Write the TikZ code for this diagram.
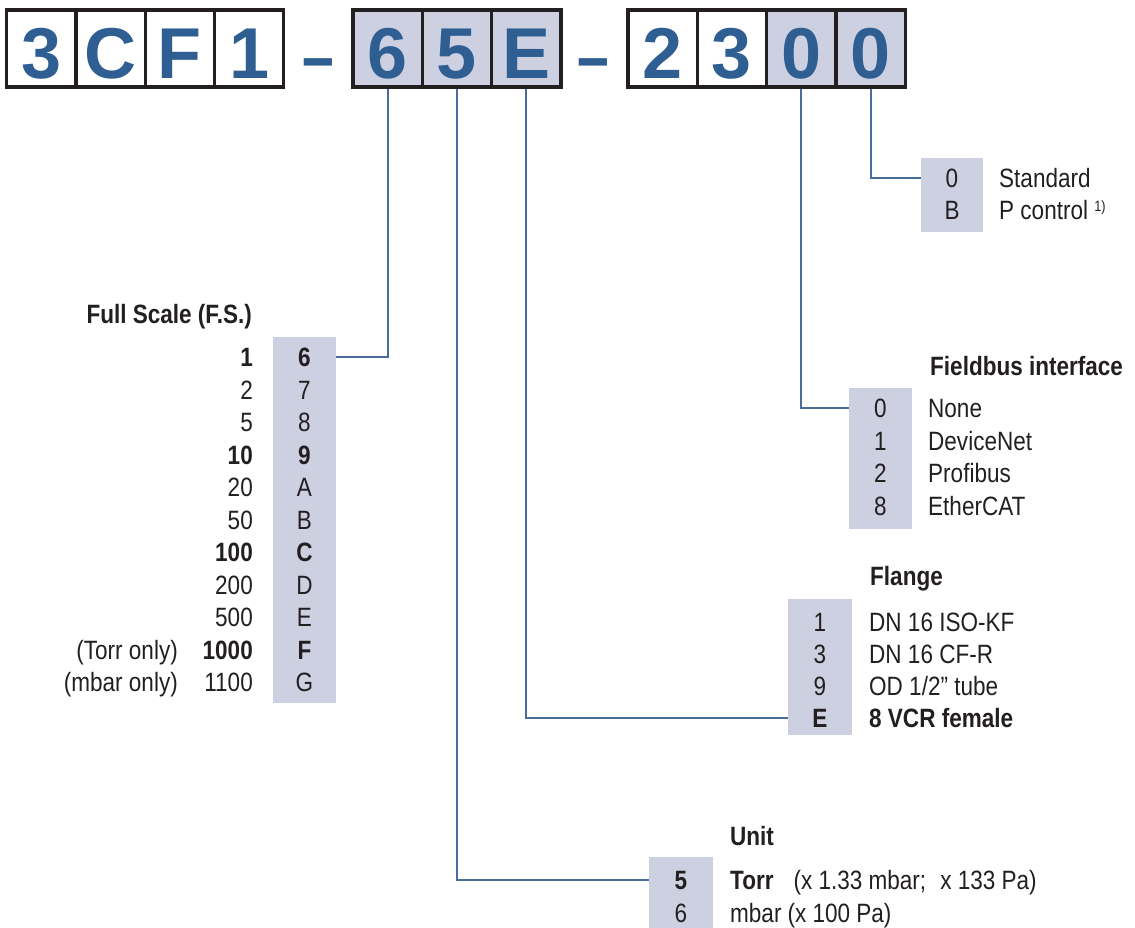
\documentclass[tikz,border=0pt]{standalone}
\usepackage{fontspec}
\setmainfont{Liberation Sans}[FakeStretch=0.85]
\newfontfamily\codefont{Liberation Sans}
\usetikzlibrary{positioning}
\usetikzlibrary{calc}

\definecolor{codeblue}{RGB}{46,94,146}
\definecolor{linkblue}{RGB}{74,110,155}
\definecolor{codegrey}{RGB}{205,208,225}
\definecolor{inkgrey}{RGB}{35,31,32}

\begin{document}
\begin{tikzpicture}[x=1pt, y=-1pt, font=\fontsize{26.5}{30}\selectfont, text=inkgrey]
    \useasboundingbox (0,0) rectangle (1135,928);

    \tikzstyle{digit} = [draw=inkgrey, line width=3.2pt, rectangle, minimum width=69.3pt, minimum height=77pt, inner sep=0pt, text height=60pt, text depth=0pt, text=codeblue, font=\codefont\bfseries\fontsize{72}{72}\selectfont]
    \tikzstyle{hyphen} = [inner sep=0pt, text=codeblue, font=\codefont\bfseries\fontsize{60}{60}\selectfont]
    \tikzstyle{codecol} = [fill=codegrey, rectangle, inner sep=0pt]
    \tikzstyle{code} = [rectangle, minimum width=63pt, inner sep=0pt, text height=19pt, text depth=0pt]
    \tikzstyle{item} = [anchor=west, inner sep=0pt, text height=19pt, text depth=0pt]
    \tikzstyle{value} = [anchor=east, inner sep=0pt, text height=19pt, text depth=0pt]
    \tikzstyle{title} = [anchor=base west, inner sep=0pt, font=\fontsize{26.5}{30}\selectfont\bfseries]
    \tikzstyle{link} = [draw=linkblue, line width=2pt]

    % the order code boxes on top
    \foreach \n/\x/\c/\f in {1/41.25/3/white, 2/110.55/C/white, 3/179.85/F/white, 4/249.15/1/white,
                             5/387.65/6/codegrey, 6/456.95/5/codegrey, 7/526.25/E/codegrey,
                             8/662.65/2/white, 9/731.95/3/white, 10/801.25/0/codegrey, 11/870.55/0/codegrey} {
        \node[digit, fill=\f] (D\n) at (\x, 48.5) {\c};
    }
    \node[hyphen] (H1) at (318, 71) {\scalebox{0.95}[1.25]{\textendash}};
    \node[hyphen] (H2) at (593.7, 71) {\scalebox{0.95}[1.25]{\textendash}};

    % Full scale list
    \node[title, anchor=base east] (FStitle) at (252, 323) {Full Scale (F.S.)};
    \node[codecol, minimum width=63pt, minimum height=366pt] (FSbox) at (304.5, 520) {};
    \foreach \i/\c/\v/\w in {0/6/1/\bfseries, 1/7/2/, 2/8/5/, 3/9/10/\bfseries, 4/A/20/, 5/B/50/,
                             6/C/100/\bfseries, 7/D/200/, 8/E/500/, 9/F/1000/\bfseries, 10/G/1100/} {
        \node[code] (FS\i) at (304.5, {357+32.5*\i}) {\w\c};
        \node[value] (FV\i) at (253, {357+32.5*\i}) {\w\v};
    }
    \node[value] (FN9) at (178, 649.5) {(Torr only)};
    \node[value] (FN10) at (178, 682) {(mbar only)};

    % Control list
    \node[codecol, minimum width=62pt, minimum height=74pt] (PCbox) at (952, 195) {};
    \node[code, minimum width=62pt] (PC0) at (952, 178) {0};
    \node[code, minimum width=62pt] (PC1) at (952, 210.5) {B};
    \node[item] (PT0) at (999, 178) {Standard};
    \node[item] (PT1) at (999, 210.5) {P control \raisebox{8pt}{\fontsize{15}{15}\selectfont 1)}};

    % Fieldbus list
    \node[title] (FBtitle) at (930, 375) {Fieldbus interface};
    \node[codecol, minimum width=63pt, minimum height=141pt] (FBbox) at (880.5, 458.5) {};
    \foreach \i/\c/\t in {0/0/None, 1/1/DeviceNet, 2/2/Profibus, 3/8/EtherCAT} {
        \node[code] (FB\i) at (880.5, {408+32.7*\i}) {\c};
        \node[item] (FBT\i) at (928, {408+32.7*\i}) {\t};
    }

    % Flange list
    \node[title] (FLtitle) at (870, 585) {Flange};
    \node[codecol, minimum width=64pt, minimum height=136pt] (FLbox) at (820, 667) {};
    \foreach \i/\c/\t/\w in {0/1/{DN 16 ISO-KF}/, 1/3/{DN 16 CF-R}/, 2/9/{OD 1/2\textquotedblright{} tube}/, 3/E/{8 VCR female}/\bfseries} {
        \node[code] (FL\i) at (820, {622+32*\i}) {\w\c};
        \node[item] (FLT\i) at (869, {622+32*\i}) {\w\t};
    }

    % Unit list
    \node[title] (Utitle) at (730, 845) {Unit};
    \node[codecol, minimum width=64pt, minimum height=73pt] (Ubox) at (681, 893.5) {};
    \node[code, minimum width=64pt] (U0) at (681, 880) {\bfseries 5};
    \node[code, minimum width=64pt] (U1) at (681, 912.5) {6};
    \node[item] (UT0) at (730, 880) {\textbf{Torr}\hspace{20pt}(x 1.33 mbar;\hspace{14pt}x 133 Pa)};
    \node[item] (UT1) at (730, 912.5) {mbar\hspace{6pt}(x 100 Pa)};

    % connectors from the code boxes to the lists
    \draw[link] (D5.south) |- (FS0);
    \draw[link] (D6.south) |- (U0);
    \draw[link] (D7.south) |- (FL3);
    \draw[link] (D10.south) |- (FB0);
    \draw[link] (D11.south) |- (PC0);

\end{tikzpicture}
\end{document}
